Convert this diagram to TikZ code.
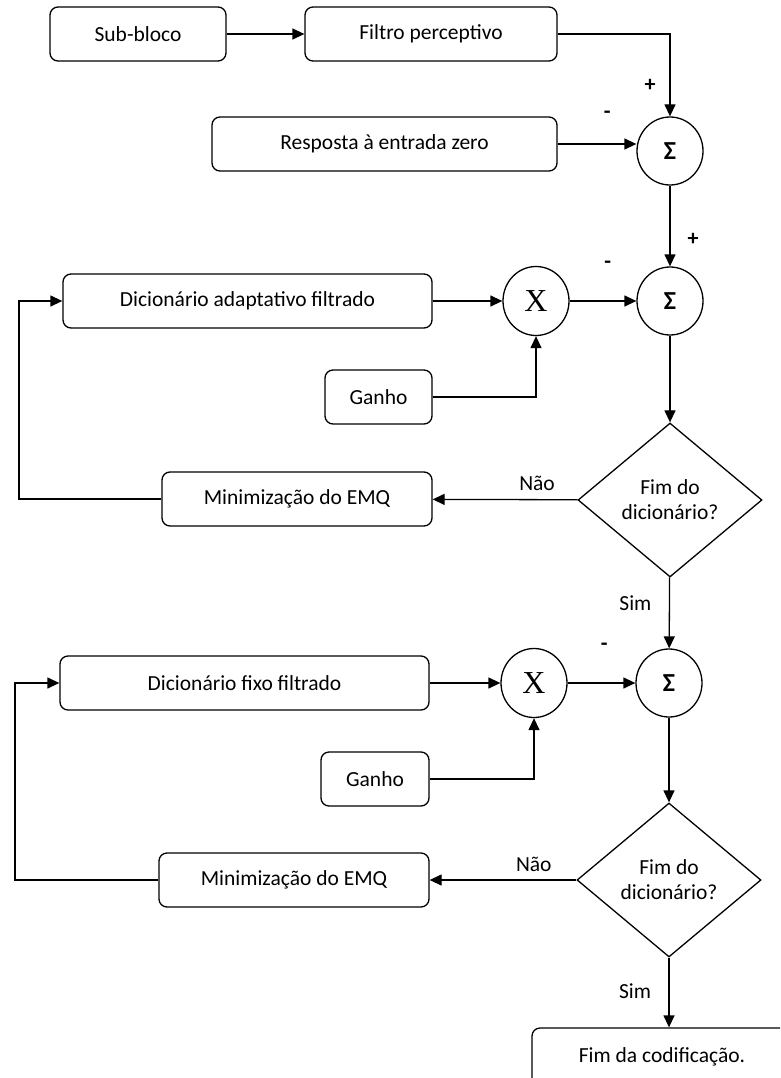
\documentclass[tikz,border=0pt]{standalone}
\usepackage{fontspec}
\setmainfont{Carlito}
\newfontfamily\timesx{Liberation Serif}
\usetikzlibrary{arrows.meta, positioning, shapes.geometric}

\begin{document}
\begin{tikzpicture}[x=1pt, y=-1pt,
		block/.style={rectangle, draw, line width=1.3pt, rounded corners=8pt, minimum height=54pt,
				align=center, font=\fontsize{21.5}{25}\selectfont},
		summ/.style={ellipse, draw, line width=1.3pt, minimum width=66pt, minimum height=68pt,
				inner sep=0pt, font=\fontsize{26}{28}\selectfont\bfseries},
		mult/.style={ellipse, draw, line width=1.3pt, minimum width=66pt, minimum height=69pt,
				inner sep=0pt, font=\timesx\fontsize{32}{34}\selectfont},
		decision/.style={diamond, draw, line width=1.3pt, minimum width=184pt, minimum height=154pt,
				inner sep=0pt, align=center, font=\fontsize{21.5}{25}\selectfont},
		sign/.style={font=\fontsize{22}{24}\selectfont\bfseries, inner sep=1pt},
		lbl/.style={font=\fontsize{21.5}{25}\selectfont, inner sep=1pt},
		flow/.style={line width=1.3pt, -{Triangle[length=12pt, width=11pt]}},
	]
	\clip (0,0) rectangle (780,1078);

	\node (sub)    [block, minimum width=176pt] at (138,34)    {Sub-bloco};
	\node (filt)   [block, minimum width=252pt] at (431,34)    {Filtro perceptivo};
	\node (resp)   [block, minimum width=345pt] at (384.5,144) {Resposta à entrada zero};
	\node (sum1)   [summ]                       at (670,151)   {Σ};

	\node (dicta)  [block, minimum width=369pt] at (247.5,301) {Dicionário adaptativo filtrado};
	\node (mula)   [mult]                       at (536,301)   {X};
	\node (sum2)   [summ]                       at (670,301)   {Σ};
	\node (ganhoa) [block, minimum width=107pt] at (378.5,397) {Ganho};
	\node (deca)   [decision]                   at (670,500)   {Fim do\\dicionário?};
	\node (emqa)   [block, minimum width=270pt] at (297,499)   {Minimização do EMQ};
	\coordinate (fba) at (19,499);

	\node (dictf)  [block, minimum width=369pt] at (244.5,683) {Dicionário fixo filtrado};
	\node (mulf)   [mult]                       at (534,683)   {X};
	\node (sum3)   [summ]                       at (669,683)   {Σ};
	\node (ganhof) [block, minimum width=108pt] at (375,779)   {Ganho};
	\node (decf)   [decision]                   at (669,880)   {Fim do\\dicionário?};
	\node (emqf)   [block, minimum width=270pt] at (294,880)   {Minimização do EMQ};
	\coordinate (fbf) at (15,880);

	\node (fim)    [block, minimum width=260pt, minimum height=58pt] at (662,1057) {Fim da codificação.};

	% entrada: sub-bloco -> filtro -> soma (+)
	\draw [flow] (sub) -- (filt);
	\draw [flow] (filt.east) -| node[sign, pos=0.81, xshift=-20pt]{+} (sum1.north);
	% resposta a entrada zero (-)
	\draw [flow] (resp.east) -- node[sign, pos=0.63, yshift=29pt]{-} (resp.east -| sum1.west);
	\draw [flow] (sum1) -- node[sign, pos=0.67, xshift=23pt]{+} (sum2);

	% laco do dicionario adaptativo
	\draw [flow] (dicta) -- (mula);
	\draw [flow] (ganhoa.east) -| (mula.south);
	\draw [flow] (mula) -- node[sign, pos=0.57, yshift=36pt]{-} (sum2);
	\draw [flow] (sum2) -- (deca);
	\draw [flow] (deca) -- node[lbl, pos=0.28, yshift=16pt]{Não} (emqa);
	\draw [flow] (emqa.west) -- (fba) |- (dicta.west);
	\draw [flow] (deca) -- node[lbl, pos=0.36, xshift=-34pt]{Sim} (sum3);

	% laco do dicionario fixo
	\draw [flow] (dictf) -- (mulf);
	\draw [flow] (ganhof.east) -| (mulf.south);
	\draw [flow] (mulf) -- node[sign, pos=0.54, yshift=36pt]{-} (sum3);
	\draw [flow] (sum3) -- (decf);
	\draw [flow] (decf) -- node[lbl, pos=0.29, yshift=16pt]{Não} (emqf);
	\draw [flow] (emqf.west) -- (fbf) |- (dictf.west);
	\draw [flow] (decf.south) -- node[lbl, pos=0.48, xshift=-34pt]{Sim} (decf.south |- fim.north);
\end{tikzpicture}
\end{document}
